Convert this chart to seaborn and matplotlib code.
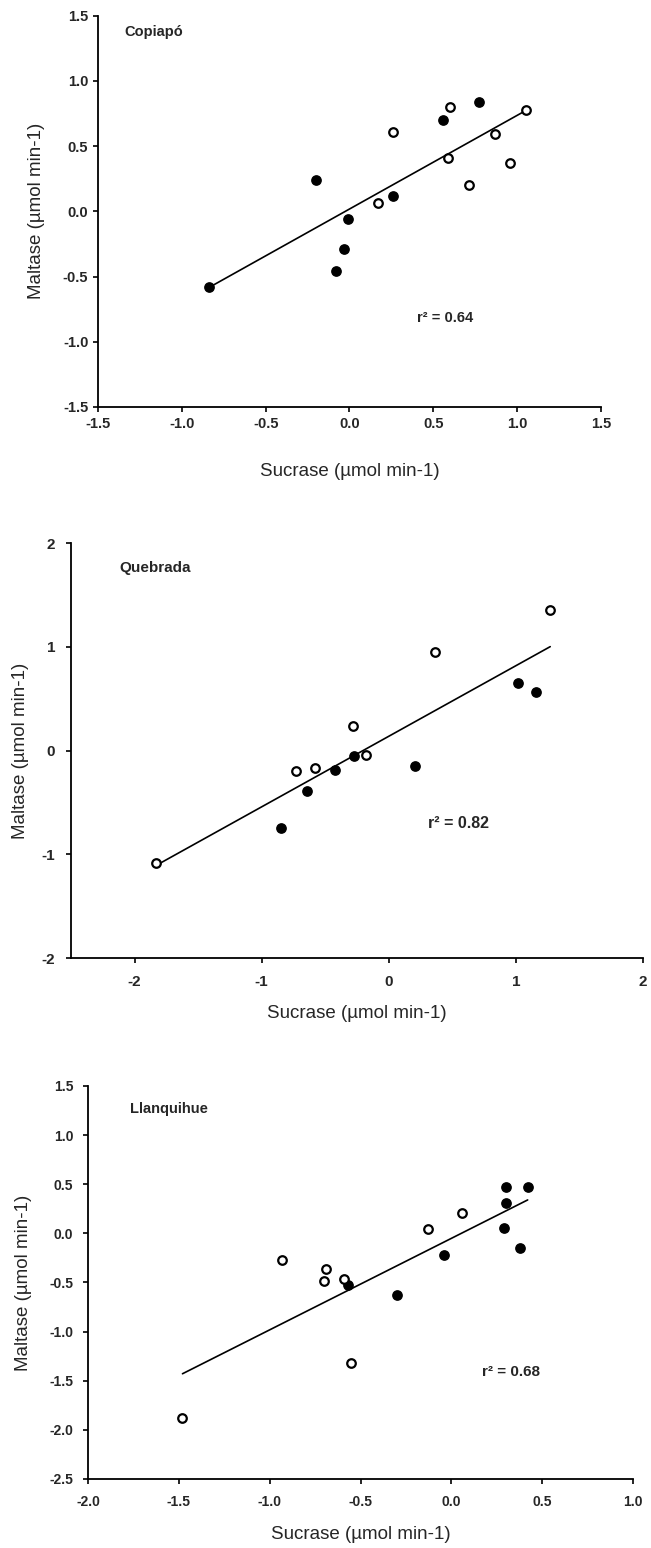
import matplotlib
matplotlib.use('Agg')
import matplotlib.pyplot as plt
import seaborn as sns
import pandas as pd

# Copiapó
cop_filled_x = [-0.84, -0.20, -0.01, -0.03, -0.08, 0.26, 0.56, 0.77]
cop_filled_y = [-0.58, 0.24, -0.06, -0.29, -0.46, 0.12, 0.70, 0.84]
cop_open_x = [0.26, 0.17, 0.59, 0.60, 0.71, 0.87, 0.96, 1.05]
cop_open_y = [0.61, 0.06, 0.41, 0.80, 0.20, 0.59, 0.37, 0.78]

# Quebrada
que_filled_x = [-0.85, -0.64, -0.42, -0.27, 0.21, 1.02, 1.16]
que_filled_y = [-0.75, -0.39, -0.19, -0.05, -0.15, 0.65, 0.56]
que_open_x = [-1.83, -0.73, -0.58, -0.28, -0.18, 0.36, 1.27]
que_open_y = [-1.08, -0.20, -0.17, 0.24, -0.04, 0.95, 1.35]

# Llanquihue
lla_filled_x = [-0.57, -0.30, -0.04, 0.30, 0.42, 0.30, 0.29, 0.38]
lla_filled_y = [-0.53, -0.63, -0.22, 0.47, 0.47, 0.31, 0.05, -0.15]
lla_open_x = [-1.48, -0.93, -0.69, -0.70, -0.59, -0.55, -0.13, 0.06]
lla_open_y = [-1.88, -0.27, -0.36, -0.49, -0.46, -1.32, 0.04, 0.21]

sns.set_style('ticks')
plt.rcParams['font.family'] = ['Liberation Sans', 'DejaVu Sans']

fig = plt.figure(figsize=(6.51, 15.48), dpi=100)

panels = [
    dict(name='Copiapó', fx=cop_filled_x, fy=cop_filled_y, ox=cop_open_x, oy=cop_open_y,
         r2='0.64', rect=[0.1505, 0.7371, 0.7727, 0.2528],
         xlim=(-1.5, 1.5), ylim=(-1.5, 1.5), xt=[-1.5, -1.0, -0.5, 0.0, 0.5, 1.0, 1.5],
         yt=[-1.5, -1.0, -0.5, 0.0, 0.5, 1.0, 1.5], fmt='{:.1f}', tfs=10.5,
         xpad=4, ypad=3.5, name_xy=(-1.34, 1.375), r2_xy=(0.40, -0.82),
         nfs=10.5, rfs=10.5, xl=-0.166, yl=-0.123),
    dict(name='Quebrada', fx=que_filled_x, fy=que_filled_y, ox=que_open_x, oy=que_open_y,
         r2='0.82', rect=[0.1091, 0.3811, 0.8786, 0.2681],
         xlim=(-2.5, 2.0), ylim=(-2, 2), xt=[-2, -1, 0, 1, 2], yt=[-2, -1, 0, 1, 2], fmt='{:.0f}',
         tfs=11, xpad=9, ypad=8, name_xy=(-2.12, 1.76), r2_xy=(0.31, -0.70),
         nfs=11, rfs=11.5, xl=-0.1325, yl=-0.089),
    dict(name='Llanquihue', fx=lla_filled_x, fy=lla_filled_y, ox=lla_open_x, oy=lla_open_y,
         r2='0.68', rect=[0.1352, 0.0446, 0.8372, 0.2539],
         xlim=(-2.0, 1.0), ylim=(-2.5, 1.5), xt=[-2.0, -1.5, -1.0, -0.5, 0.0, 0.5, 1.0],
         yt=[-2.5, -2.0, -1.5, -1.0, -0.5, 0.0, 0.5, 1.0, 1.5], fmt='{:.1f}', tfs=10,
         xpad=8, ypad=7, name_xy=(-1.77, 1.266), r2_xy=(0.17, -1.41),
         nfs=10.5, rfs=11, xl=-0.1425, yl=-0.119),
]

for p in panels:
    ax = fig.add_axes(p['rect'])
    df = pd.DataFrame({'x': p['fx'] + p['ox'], 'y': p['fy'] + p['oy']})
    sns.regplot(x='x', y='y', data=df, ax=ax, scatter=False, ci=None,
                line_kws={'color': 'black', 'linewidth': 1.2})
    sns.scatterplot(x=p['fx'], y=p['fy'], ax=ax, color='black', edgecolor='black',
                    s=45, linewidth=1.0, zorder=3)
    sns.scatterplot(x=p['ox'], y=p['oy'], ax=ax, color='white', edgecolor='black',
                    s=38, linewidth=1.6, zorder=3)
    ax.set_xlim(p['xlim'])
    ax.set_ylim(p['ylim'])
    ax.set_xticks(p['xt'])
    ax.set_yticks(p['yt'])
    ax.set_xticklabels([p['fmt'].format(v) for v in p['xt']], fontsize=p['tfs'], fontweight='bold')
    ax.set_yticklabels([p['fmt'].format(v) for v in p['yt']], fontsize=p['tfs'], fontweight='bold')
    ax.tick_params(direction='out', length=3.5, width=1.2, color='black')
    ax.tick_params(axis='x', pad=p['xpad'])
    ax.tick_params(axis='y', pad=p['ypad'])
    sns.despine(ax=ax)
    for s in ['left', 'bottom']:
        ax.spines[s].set_linewidth(1.3)
        ax.spines[s].set_color('black')
    ax.set_xlabel('Sucrase (µmol min-1)', fontsize=13.5, va='center')
    ax.set_ylabel('Maltase (µmol min-1)', fontsize=13.5, va='center')
    ax.xaxis.set_label_coords(0.5, p['xl'])
    ax.yaxis.set_label_coords(p['yl'], 0.5)
    ax.text(p['name_xy'][0], p['name_xy'][1], p['name'], fontsize=p['nfs'], fontweight='bold',
            va='center', ha='left')
    ax.text(p['r2_xy'][0], p['r2_xy'][1], 'r² = ' + p['r2'], fontsize=p['rfs'], fontweight='bold',
            va='center', ha='left')

plt.savefig('out.png', dpi=100)
